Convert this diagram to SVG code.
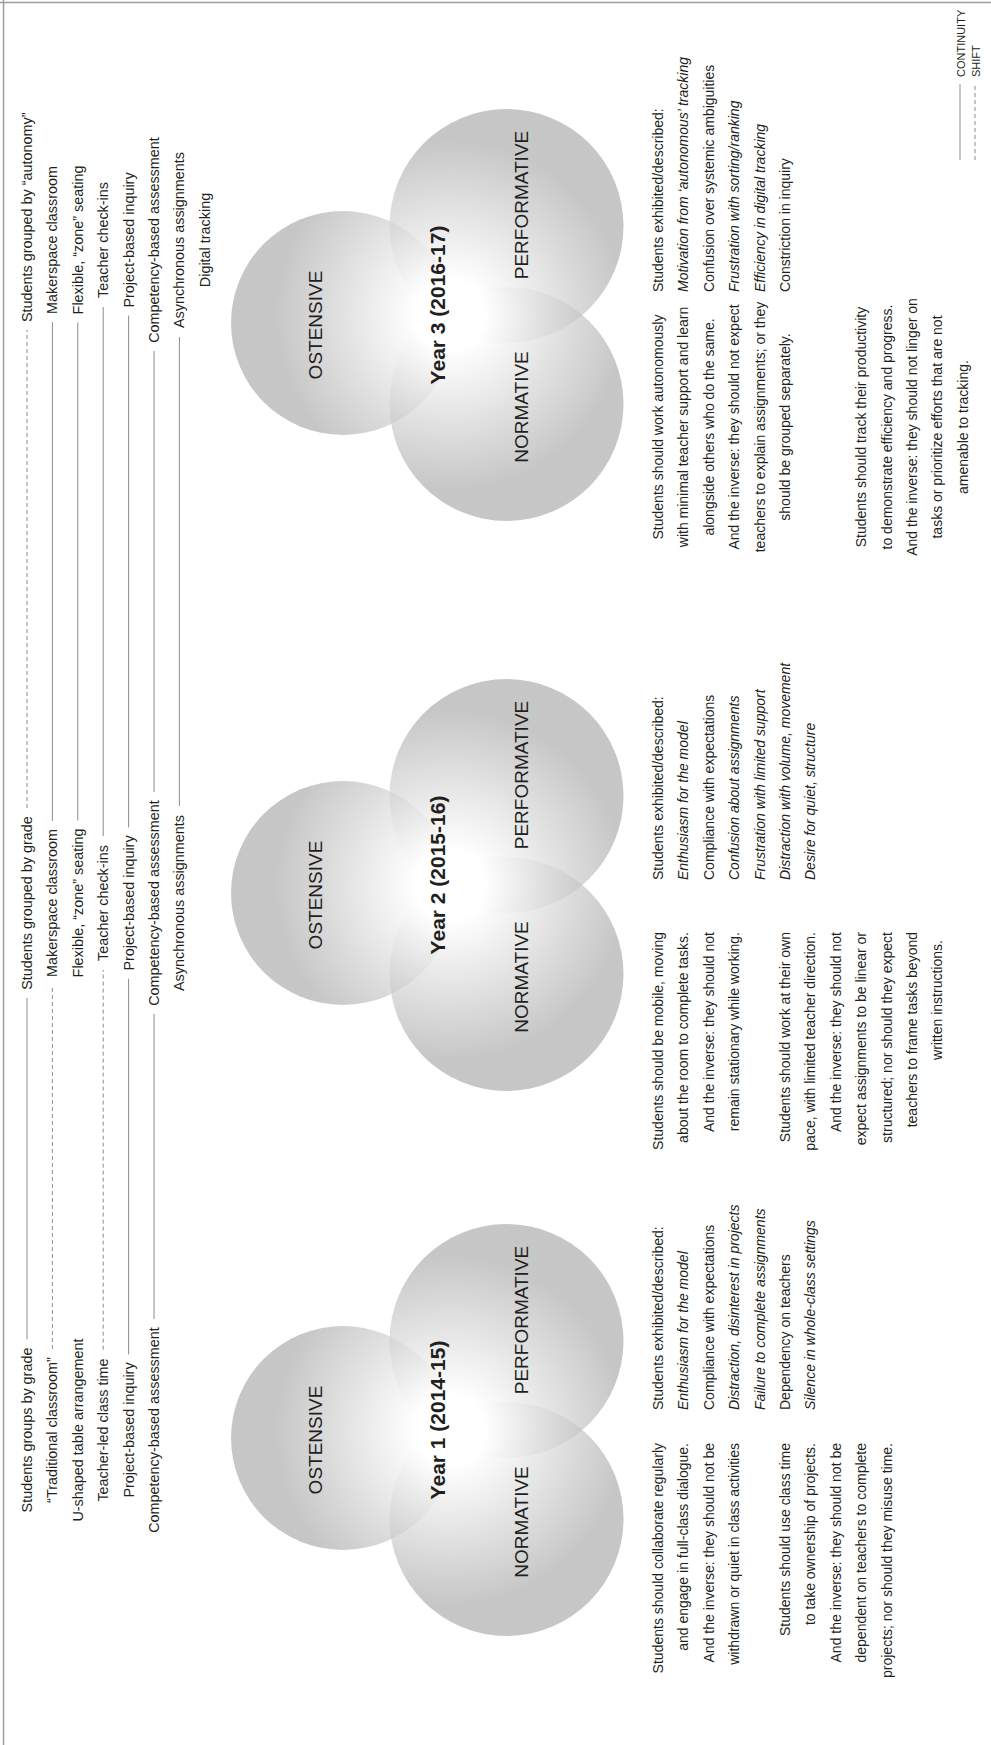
<svg xmlns="http://www.w3.org/2000/svg" width="991" height="1745" viewBox="0 0 991 1745">
<style>
.t{font-family:"Liberation Sans",Arial,sans-serif;font-size:14px;fill:#231f20}
.l{font-size:14.4px}
.m{text-anchor:middle}
.e{text-anchor:end}
.i{font-style:italic}
.lab{font-size:19px;text-anchor:middle}
.yr{font-size:21px;font-weight:bold;text-anchor:middle}
.s{stroke:#8c8c8c;stroke-width:1;fill:none}
.d{stroke:#8c8c8c;stroke-width:1;stroke-dasharray:4 3;fill:none}
.c{fill:url(#vg);fill-opacity:.65}
</style>
<defs>
<radialGradient id="vg" gradientUnits="userSpaceOnUse" cx="0" cy="450" r="175">
<stop offset="0" stop-color="#ffffff"/>
<stop offset="0.2" stop-color="#ffffff"/>
<stop offset="1" stop-color="#a8a8a8"/>
</radialGradient>
</defs>
<rect width="991" height="1745" fill="#ffffff"/>
<g id="frame" stroke="#9c9c9c" stroke-width="1.5">
<line x1="0" y1="2.5" x2="991" y2="2.5"/>
<line x1="3.5" y1="0" x2="3.5" y2="1745"/>
</g>
<g transform="translate(0,1745) rotate(-90)">
<g id="connectors">
<line class="s" x1="405.5" y1="27" x2="747" y2="27"/>
<line class="d" x1="396" y1="52.4" x2="760" y2="52.4"/>
<line class="d" x1="395.4" y1="103.2" x2="775" y2="103.2"/>
<line class="s" x1="390.6" y1="128.6" x2="766.4" y2="128.6"/>
<line class="s" x1="426" y1="154" x2="731" y2="154"/>
<line class="d" x1="937" y1="27" x2="1415" y2="27"/>
<line class="s" x1="924" y1="52.4" x2="1423" y2="52.4"/>
<line class="s" x1="924.5" y1="77.8" x2="1422.5" y2="77.8"/>
<line class="s" x1="909" y1="103.2" x2="1438" y2="103.2"/>
<line class="s" x1="917.6" y1="128.6" x2="1429.4" y2="128.6"/>
<line class="s" x1="953" y1="154" x2="1394" y2="154"/>
<line class="s" x1="939" y1="179.4" x2="1408" y2="179.4"/>
</g>
<g id="list-year1" class="t l m">
<text x="315" y="32">Students groups by grade</text>
<text x="315" y="57.4">“Traditional classroom”</text>
<text x="315" y="82.8">U-shaped table arrangement</text>
<text x="315" y="108.2">Teacher-led class time</text>
<text x="315" y="133.6">Project-based inquiry</text>
<text x="315" y="159">Competency-based assessment</text>
</g>
<g id="list-year2" class="t l m">
<text x="842" y="32">Students grouped by grade</text>
<text x="842" y="57.4">Makerspace classroom</text>
<text x="842" y="82.8">Flexible, “zone” seating</text>
<text x="842" y="108.2">Teacher check-ins</text>
<text x="842" y="133.6">Project-based inquiry</text>
<text x="842" y="159">Competency-based assessment</text>
<text x="842" y="184.4">Asynchronous assignments</text>
</g>
<g id="list-year3" class="t l m">
<text x="1423" y="32" style="text-anchor:start">Students grouped by “autonomy”</text>
<text x="1505" y="57.4">Makerspace classroom</text>
<text x="1505" y="82.8">Flexible, “zone” seating</text>
<text x="1505" y="108.2">Teacher check-ins</text>
<text x="1505" y="133.6">Project-based inquiry</text>
<text x="1505" y="159">Competency-based assessment</text>
<text x="1505" y="184.4">Asynchronous assignments</text>
<text x="1505" y="209.8">Digital tracking</text>
</g>
<g id="venn-year1" transform="translate(315,0)">
<circle class="c" cx="-8" cy="343" r="112"/>
<circle class="c" cx="89" cy="506.5" r="117"/>
<circle class="c" cx="-89" cy="506.5" r="117"/>
<text class="t lab" x="-10" y="322">OSTENSIVE</text>
<text class="t lab" x="110" y="528">PERFORMATIVE</text>
<text class="t lab" x="-92" y="528">NORMATIVE</text>
<text class="t yr" x="10" y="445">Year 1 (2014-15)</text>
</g>
<g id="venn-year2" transform="translate(860,0)">
<circle class="c" cx="-8" cy="343" r="112"/>
<circle class="c" cx="89" cy="506.5" r="117"/>
<circle class="c" cx="-89" cy="506.5" r="117"/>
<text class="t lab" x="-10" y="322">OSTENSIVE</text>
<text class="t lab" x="110" y="528">PERFORMATIVE</text>
<text class="t lab" x="-92" y="528">NORMATIVE</text>
<text class="t yr" x="10" y="445">Year 2 (2015-16)</text>
</g>
<g id="venn-year3" transform="translate(1430,0)">
<circle class="c" cx="-8" cy="343" r="112"/>
<circle class="c" cx="89" cy="506.5" r="117"/>
<circle class="c" cx="-89" cy="506.5" r="117"/>
<text class="t lab" x="-10" y="322">OSTENSIVE</text>
<text class="t lab" x="110" y="528">PERFORMATIVE</text>
<text class="t lab" x="-92" y="528">NORMATIVE</text>
<text class="t yr" x="10" y="445">Year 3 (2016-17)</text>
</g>
<g id="norms-year1" class="t e">
<text x="302" y="663">Students should collaborate regularly</text>
<text x="302" y="688.4">and engage in full-class dialogue.</text>
<text x="302" y="713.8">And the inverse: they should not be</text>
<text x="302" y="739.2">withdrawn or quiet in class activities</text>
<text x="302" y="790">Students should use class time</text>
<text x="302" y="815.4">to take ownership of projects.</text>
<text x="302" y="840.8">And the inverse: they should not be</text>
<text x="302" y="866.2">dependent on teachers to complete</text>
<text x="302" y="891.6">projects; nor should they misuse time.</text>
</g>
<g id="observed-year1" class="t">
<text x="335" y="663">Students exhibited/described:</text>
<text class="i" x="335" y="688.4">Enthusiasm for the model</text>
<text x="335" y="713.8">Compliance with expectations</text>
<text class="i" x="335" y="739.2">Distraction, disinterest in projects</text>
<text class="i" x="335" y="764.6">Failure to complete assignments</text>
<text x="335" y="790">Dependency on teachers</text>
<text class="i" x="335" y="815.4">Silence in whole-class settings</text>
</g>
<g id="norms-year2" class="t e">
<text x="813" y="663">Students should be mobile, moving</text>
<text x="813" y="688.4">about the room to complete tasks.</text>
<text x="813" y="713.8">And the inverse: they should not</text>
<text x="813" y="739.2">remain stationary while working.</text>
<text x="813" y="790">Students should work at their own</text>
<text x="813" y="815.4">pace, with limited teacher direction.</text>
<text x="813" y="840.8">And the inverse: they should not</text>
<text x="813" y="866.2">expect assignments to be linear or</text>
<text x="813" y="891.6">structured; nor should they expect</text>
<text x="813" y="917">teachers to frame tasks beyond</text>
<text x="745" y="942.4" style="text-anchor:middle">written instructions.</text>
</g>
<g id="observed-year2" class="t">
<text x="865" y="663">Students exhibited/described:</text>
<text class="i" x="865" y="688.4">Enthusiasm for the model</text>
<text x="865" y="713.8">Compliance with expectations</text>
<text class="i" x="865" y="739.2">Confusion about assignments</text>
<text class="i" x="865" y="764.6">Frustration with limited support</text>
<text class="i" x="865" y="790">Distraction with volume, movement</text>
<text class="i" x="865" y="815.4">Desire for quiet, structure</text>
</g>
<g id="norms-year3" class="t m">
<text x="1318" y="663">Students should work autonomously</text>
<text x="1318" y="688.4">with minimal teacher support and learn</text>
<text x="1318" y="713.8">alongside others who do the same.</text>
<text x="1318" y="739.2">And the inverse: they should not expect</text>
<text x="1318" y="764.6">teachers to explain assignments; or they</text>
<text x="1318" y="790">should be grouped separately.</text>
<text x="1318" y="866.2">Students should track their productivity</text>
<text x="1318" y="891.6">to demonstrate efficiency and progress.</text>
<text x="1318" y="917">And the inverse: they should not linger on</text>
<text x="1318" y="942.4">tasks or prioritize efforts that are not</text>
<text x="1318" y="967.8">amenable to tracking.</text>
</g>
<g id="observed-year3" class="t">
<text x="1453" y="663">Students exhibited/described:</text>
<text class="i" x="1453" y="688.4">Motivation from ‘autonomous’ tracking</text>
<text x="1453" y="713.8">Confusion over systemic ambiguities</text>
<text class="i" x="1453" y="739.2">Frustration with sorting/ranking</text>
<text class="i" x="1453" y="764.6">Efficiency in digital tracking</text>
<text x="1453" y="790">Constriction in inquiry</text>
</g>
<g id="legend">
<line class="s" x1="1585" y1="960" x2="1661" y2="960"/>
<line class="d" x1="1585" y1="975" x2="1661" y2="975"/>
<text class="t" x="1668" y="965" style="font-size:11px">CONTINUITY</text>
<text class="t" x="1668" y="980" style="font-size:11px">SHIFT</text>
</g>
</g>
</svg>
